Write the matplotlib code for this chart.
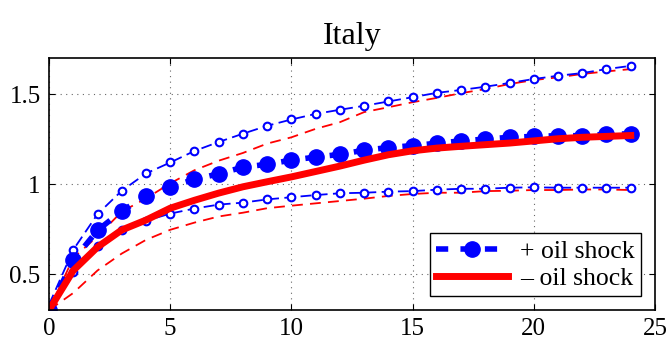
import numpy as np
import matplotlib
matplotlib.use("Agg")
import matplotlib.pyplot as plt

plt.rcParams["font.family"] = ["Liberation Serif", "DejaVu Serif"]

# horizon (quarters)
h = np.arange(0, 25)

# + oil shock: median response and bands
pos_mid = [0.30, 0.577, 0.743, 0.85, 0.935, 0.985, 1.026, 1.057, 1.094, 1.11, 1.133, 1.15, 1.165,
           1.188, 1.203, 1.214, 1.227, 1.24, 1.25, 1.26, 1.265, 1.269, 1.269, 1.276, 1.28]
pos_hi = [0.33, 0.635, 0.833, 0.963, 1.059, 1.12, 1.184, 1.234, 1.28, 1.324, 1.359, 1.39, 1.413,
          1.435, 1.459, 1.483, 1.507, 1.523, 1.541, 1.562, 1.584, 1.602, 1.617, 1.639, 1.657]
pos_lo = [0.30, 0.513, 0.656, 0.743, 0.796, 0.836, 0.864, 0.886, 0.897, 0.915, 0.927, 0.939, 0.949,
          0.952, 0.958, 0.961, 0.969, 0.974, 0.974, 0.98, 0.982, 0.98, 0.98, 0.98, 0.98]

# - oil shock: median response and bands
neg_mid = [0.30, 0.52, 0.65, 0.745, 0.80, 0.866, 0.91, 0.95, 0.985, 1.013, 1.04, 1.07, 1.10,
           1.133, 1.163, 1.185, 1.200, 1.21, 1.219, 1.228, 1.24, 1.252, 1.26, 1.265, 1.27]
neg_hi = [0.30, 0.59, 0.71, 0.847, 0.92, 1.004, 1.077, 1.13, 1.173, 1.225, 1.26, 1.307, 1.344,
          1.40, 1.427, 1.455, 1.479, 1.505, 1.528, 1.556, 1.578, 1.593, 1.612, 1.626, 1.639]
neg_lo = [0.30, 0.395, 0.52, 0.614, 0.69, 0.746, 0.786, 0.82, 0.841, 0.866, 0.88, 0.893, 0.906,
          0.919, 0.934, 0.945, 0.952, 0.952, 0.961, 0.963, 0.967, 0.967, 0.97, 0.97, 0.967]

fig = plt.figure(figsize=(6.68, 3.48), dpi=100)
ax = fig.add_axes([0.0734, 0.109, 0.9071, 0.724])

ax.plot(h, neg_hi, color="red", ls=(0, (6, 4)), lw=1.3)
ax.plot(h, neg_lo, color="red", ls=(0, (6, 4)), lw=1.3)
ax.plot(h, pos_hi, color="blue", ls=(0, (6, 3)), lw=1.3, marker="o", ms=5.5,
        mfc="white", mec="blue", mew=1.5)
ax.plot(h, pos_lo, color="blue", ls=(0, (6, 3)), lw=1.3, marker="o", ms=5.5,
        mfc="white", mec="blue", mew=1.5)
l1, = ax.plot(h, pos_mid, color="blue", ls=(0, (2.2, 2.2)), lw=4, marker="o", ms=11,
              label="+ oil shock")
l2, = ax.plot(h, neg_mid, color="red", lw=5, label="\u2013 oil shock")

ax.set_xlim(0, 25)
ax.set_ylim(0.3, 1.7)
ax.set_xticks([0, 5, 10, 15, 20, 25])
ax.set_yticks([0.5, 1, 1.5])
ax.set_yticklabels(["0.5", "1", "1.5"])
ax.tick_params(direction="in", labelsize=18, top=True, right=True, length=4, pad=6)
ax.grid(True, ls=(0, (1, 4)), color="black", lw=0.8, alpha=0.6)
for s in ax.spines.values():
    s.set_linewidth(1.2)

ax.set_title("Italy", fontsize=23, pad=10)

leg = ax.legend(handles=[l1, l2], loc="lower right", fontsize=18.5, fancybox=False,
                framealpha=1, edgecolor="black", handlelength=2.8, handletextpad=0.45,
                borderpad=0.25, labelspacing=0.15, borderaxespad=0.55)
leg.get_frame().set_linewidth(1.0)

fig.savefig("out.png", dpi=100)
